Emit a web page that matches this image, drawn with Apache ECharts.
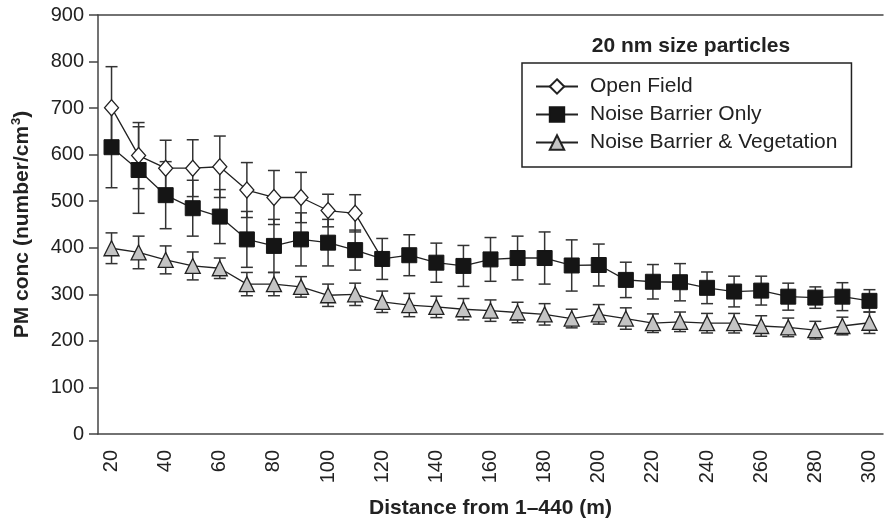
<!DOCTYPE html>
<html lang="en">
<head>
    <meta charset="UTF-8">
    <title>20 nm size particles</title>
    <style type="text/css">
        *{
            margin: 0;
            padding: 0;
        }
        #main{
            width: 884px;
            height: 525px;
            background: #fff;
        }
    </style>
</head>
<body>
    <div id="main"></div>
    <script src="https://cdn.jsdelivr.net/npm/echarts@6/dist/echarts.min.js"></script>
    <script type="text/javascript">
        // distance categories (m)
        var distances = ['20', '30', '40', '50', '60', '70', '80', '90', '100', '110',
            '120', '130', '140', '150', '160', '170', '180', '190', '200', '210',
            '220', '230', '240', '250', '260', '270', '280', '290', '300'];

        // Open Field (only measured close to the road)
        var openField = [701, 598, 571, 571, 574, 524, 508, 508, 480, 474, 376];
        var openFieldErr = [88, 71, 60, 61, 66, 59, 58, 54, 35, 40, 0];

        // Noise Barrier Only
        var barrierOnly = [616, 567, 513, 485, 467, 418, 404, 418, 411, 395,
            376, 384, 368, 361, 375, 378, 378, 362, 363, 331,
            327, 326, 314, 306, 308, 295, 293, 295, 286];
        var barrierOnlyErr = [87, 93, 72, 60, 58, 60, 57, 57, 50, 43,
            44, 44, 42, 44, 47, 47, 56, 55, 45, 38,
            37, 40, 34, 33, 31, 29, 23, 30, 24];

        // Noise Barrier & Vegetation
        var barrierVeg = [399, 390, 374, 361, 356, 322, 322, 316, 298, 300,
            284, 277, 273, 268, 265, 261, 257, 248, 257, 248,
            238, 241, 238, 238, 232, 229, 223, 232, 239];
        var barrierVegErr = [33, 35, 30, 30, 22, 25, 25, 22, 24, 24,
            23, 25, 23, 23, 23, 22, 23, 20, 21, 23,
            20, 21, 21, 21, 22, 20, 19, 19, 23];

        function errData(vals, errs) {
            var out = [];
            for (var i = 0; i < vals.length; i++) {
                if (errs[i] > 0) out.push([i, vals[i] - errs[i], vals[i] + errs[i]]);
            }
            return out;
        }

        // vertical whisker with caps, placed through the axes
        function renderErr(params, api) {
            var lo = api.coord([api.value(0), api.value(1)]);
            var hi = api.coord([api.value(0), api.value(2)]);
            var w = 6;
            var st = { stroke: '#333', lineWidth: 1.5 };
            return {
                type: 'group',
                children: [
                    { type: 'line', shape: { x1: lo[0], y1: lo[1], x2: hi[0], y2: hi[1] }, style: st },
                    { type: 'line', shape: { x1: lo[0] - w, y1: lo[1], x2: lo[0] + w, y2: lo[1] }, style: st },
                    { type: 'line', shape: { x1: hi[0] - w, y1: hi[1], x2: hi[0] + w, y2: hi[1] }, style: st }
                ]
            };
        }

        var myChart = echarts.init(document.getElementById('main'), null, { renderer: 'canvas' });
        var font = '"Liberation Sans", Arial, sans-serif';

        option = {
            backgroundColor: '#fff',
            textStyle: { fontFamily: font, color: '#222' },
            animation: false,
            title: {
                text: '20 nm size particles',
                left: 686,
                top: 31,
                textAlign: 'center',
                textStyle: { fontFamily: font, fontSize: 21, fontWeight: 'bold', color: '#222' }
            },
            legend: {
                orient: 'vertical',
                left: 522,
                top: 63,
                padding: [13, 14, 14, 13],
                itemGap: 7,
                itemWidth: 42,
                itemHeight: 18,
                borderColor: '#222',
                borderWidth: 1.5,
                textStyle: { fontFamily: font, fontSize: 21, color: '#222', lineHeight: 21, padding: [0, 0, 0, 7] },
                data: ['Open Field', 'Noise Barrier Only', 'Noise Barrier & Vegetation']
            },
            grid: {
                left: 98,
                right: 1,
                top: 15,
                bottom: 91
            },
            xAxis: [{
                type: 'category',
                data: distances,
                boundaryGap: true,
                name: 'Distance from 1\u2013440 (m)',
                nameLocation: 'middle',
                nameGap: 64,
                nameTextStyle: { fontFamily: font, fontSize: 21, fontWeight: 'bold', color: '#222' },
                axisLine: { lineStyle: { color: '#444', width: 1.5 } },
                axisTick: { interval: 0, length: 9, lineStyle: { color: '#444', width: 1.5 } },
                axisLabel: { interval: 1, rotate: 90, margin: 16, fontSize: 20, color: '#222', fontFamily: font },
                splitLine: { show: false }
            }, {
                type: 'category',
                data: distances,
                position: 'top',
                axisLine: { lineStyle: { color: '#444', width: 1.5 } },
                axisTick: { show: false },
                axisLabel: { show: false }
            }],
            yAxis: {
                type: 'value',
                min: 0,
                max: 900,
                interval: 100,
                name: '{a|PM conc (number/cm}{s|3}{a|)}',
                nameLocation: 'middle',
                nameGap: 64,
                nameTextStyle: {
                    fontFamily: font, fontSize: 21, fontWeight: 'bold', color: '#222',
                    rich: {
                        a: { fontFamily: font, fontSize: 21, fontWeight: 'bold', color: '#222', lineHeight: 24 },
                        s: { fontFamily: font, fontSize: 13, fontWeight: 'bold', color: '#222', verticalAlign: 'top', lineHeight: 24, padding: [0, 0, 0, 1] }
                    }
                },
                axisLine: { show: true, lineStyle: { color: '#444', width: 1.5 } },
                axisTick: { show: true, length: 9, lineStyle: { color: '#444', width: 1.5 } },
                axisLabel: { margin: 14, fontSize: 20, color: '#222', fontFamily: font },
                splitLine: { show: false }
            },
            series: [{
                type: 'custom',
                name: 'err-of',
                renderItem: renderErr,
                data: errData(openField, openFieldErr),
                z: 1,
                silent: true
            }, {
                type: 'custom',
                name: 'err-nb',
                renderItem: renderErr,
                data: errData(barrierOnly, barrierOnlyErr),
                z: 1,
                silent: true
            }, {
                type: 'custom',
                name: 'err-nbv',
                renderItem: renderErr,
                data: errData(barrierVeg, barrierVegErr),
                z: 1,
                silent: true
            }, {
                name: 'Open Field',
                type: 'line',
                data: openField,
                symbol: 'diamond',
                symbolSize: [14, 16],
                z: 2,
                lineStyle: { color: '#222', width: 1.3 },
                itemStyle: { color: '#fff', borderColor: '#222', borderWidth: 1.3 }
            }, {
                name: 'Noise Barrier Only',
                type: 'line',
                data: barrierOnly,
                symbol: 'rect',
                symbolSize: 15,
                z: 3,
                lineStyle: { color: '#222', width: 1.3 },
                itemStyle: { color: '#151515', borderColor: '#151515', borderWidth: 1 }
            }, {
                name: 'Noise Barrier & Vegetation',
                type: 'line',
                data: barrierVeg,
                symbol: 'triangle',
                symbolSize: 15,
                z: 4,
                lineStyle: { color: '#222', width: 1.3 },
                itemStyle: { color: '#c4c4c4', borderColor: '#222', borderWidth: 1.3 }
            }]
        };

        myChart.setOption(option);
    </script>
</body>
</html>
